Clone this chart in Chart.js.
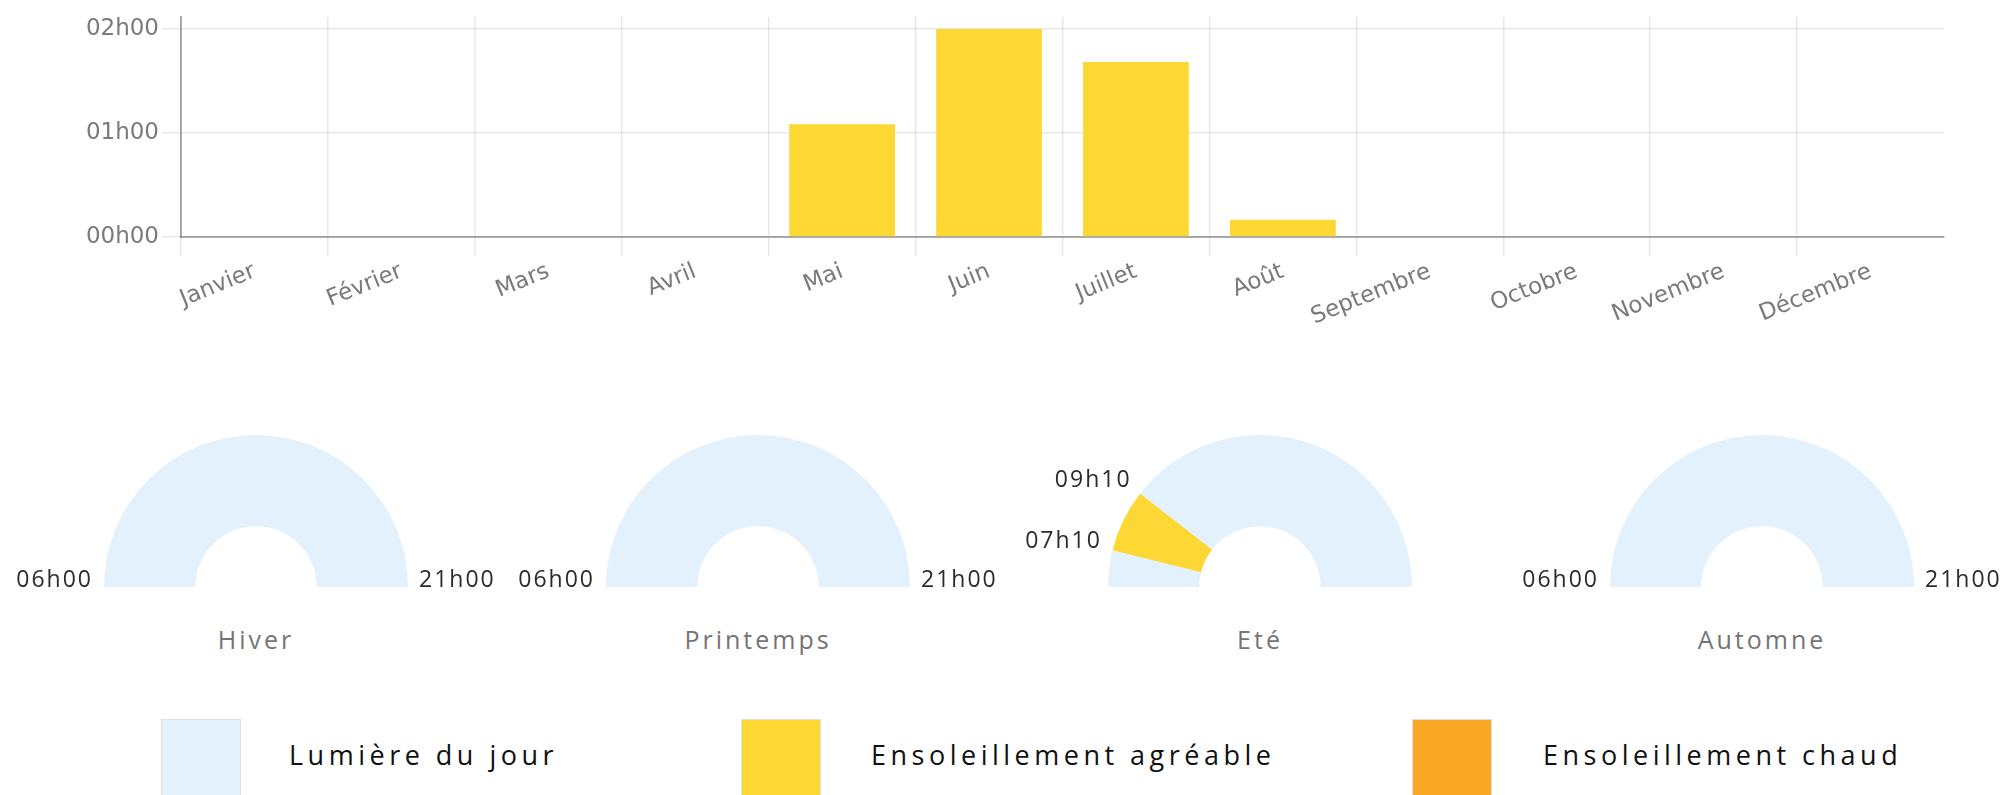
<!DOCTYPE html>
<html lang="fr">
<head>
<meta charset="utf-8">
<title>Ensoleillement</title>
<script src="https://cdn.jsdelivr.net/npm/chart.js@4.4.1/dist/chart.umd.min.js"></script>
<style>
  html, body { margin: 0; padding: 0; background: #fff; }
  #page { position: relative; width: 2000px; height: 795px; overflow: hidden; }
  canvas { position: absolute; }
  .season-title {
    position: absolute; width: 484px; text-align: center;
    font-family: "Open Sans"; font-size: 25px; line-height: 30px;
    letter-spacing: 3px; color: #747474;
  }
  .legend-box { position: absolute; top: 719px; width: 78px; height: 78px; border: 1px solid #e0e0e0; }
  .legend-text {
    position: absolute; top: 737px; white-space: nowrap;
    font-family: "Open Sans"; font-size: 27px; line-height: 36px;
    letter-spacing: 4.5px; color: #111;
  }
</style>
</head>
<body>
<div id="page">
  <canvas id="sunChart" width="2000" height="330" style="left:0;top:0"></canvas>
</div>
<script>
// monthly hours of pleasant sunshine, in minutes
const months = ["Janvier", "Février", "Mars", "Avril", "Mai", "Juin", "Juillet", "Août", "Septembre", "Octobre", "Novembre", "Décembre"];
const pleasantMinutes = [0, 0, 0, 0, 65, 120, 101, 10, 0, 0, 0, 0];
const yTicks = [0, 60, 120];
const yMax = 127;

// seasons: daylight window and pleasant sunshine window (minutes since midnight)
const seasons = ["Hiver", "Printemps", "Eté", "Automne"];
const dayStart = 360;
const dayEnd = 1260;
const pleasantFrom = [null, null, 430, null];
const pleasantTo = [null, null, 550, null];

const legendLabels = ["Lumière du jour", "Ensoleillement agréable", "Ensoleillement chaud"];

const DAYLIGHT = "#E3F1FC";
const PLEASANT = "#FDD835";
const HOT = "#F9A825";

function hhmm(minutes) {
    const h = Math.floor(minutes / 60);
    const m = minutes % 60;
    return String(h).padStart(2, "0") + "h" + String(m).padStart(2, "0");
}

const tickFont = { family: "'DejaVu Sans'", size: 23 };

new Chart(document.getElementById("sunChart"), {
    type: "bar",
    data: {
        labels: months,
        datasets: [
            {
                label: "Ensoleillement agréable",
                data: pleasantMinutes,
                backgroundColor: PLEASANT,
                borderWidth: 0
            }
        ]
    },
    options: {
        responsive: false,
        animation: false,
        layout: { padding: { top: 14, right: 56, left: 0, bottom: 0 } },
        plugins: {
            legend: { display: false },
            tooltip: { enabled: false }
        },
        scales: {
            x: {
                grid: {
                    color: (c) => c.type === "tick" ? "rgba(0,0,0,0.09)" : "transparent",
                    lineWidth: 1.5,
                    tickLength: 19
                },
                border: { color: "rgba(0,0,0,0.3)", width: 2 },
                ticks: {
                    font: tickFont,
                    color: "#7a7a7a",
                    minRotation: 22,
                    maxRotation: 22,
                    padding: 2
                },
                afterFit: (scale) => { scale.height = 93; }
            },
            y: {
                min: 0,
                max: yMax,
                grid: { color: "rgba(0,0,0,0.09)", lineWidth: 1.5, tickLength: 19 },
                border: { color: "rgba(0,0,0,0.3)", width: 2 },
                afterBuildTicks: (scale) => { scale.ticks = yTicks.map((v) => ({ value: v })); },
                ticks: {
                    font: tickFont,
                    color: "#7a7a7a",
                    padding: 3,
                    callback: (v) => hhmm(v)
                },
                afterFit: (scale) => { scale.width = 181; }
            }
        }
    }
});

function timeLabels(marks) {
    return {
        id: "timeLabels",
        afterDraw(chart) {
            const arcs = chart.getDatasetMeta(0).data;
            const ctx = chart.ctx;
            ctx.save();
            ctx.font = "500 23px 'Open Sans'";
            ctx.letterSpacing = "2px";
            ctx.fillStyle = "#2b2b2b";
            ctx.textBaseline = "alphabetic";
            marks.forEach((mark) => {
                const arc = arcs[mark.arc];
                const angle = mark.edge === "start" ? arc.startAngle : arc.endAngle;
                const r = arc.outerRadius + 11;
                const x = arc.x + Math.cos(angle) * r;
                const y = arc.y + Math.sin(angle) * r;
                ctx.textAlign = Math.cos(angle) < 0 ? "right" : "left";
                ctx.fillText(mark.text, x, y);
            });
            ctx.restore();
        }
    };
}

const page = document.getElementById("page");

seasons.forEach((season, i) => {
    const left = 14 + 502 * i;
    const canvas = document.createElement("canvas");
    canvas.width = 484;
    canvas.height = 222;
    canvas.style.left = left + "px";
    canvas.style.top = "400px";
    page.appendChild(canvas);

    let segments, colors, marks;
    if (pleasantFrom[i] === null) {
        segments = [dayEnd - dayStart];
        colors = [DAYLIGHT];
        marks = [
            { arc: 0, edge: "start", text: hhmm(dayStart) },
            { arc: 0, edge: "end", text: hhmm(dayEnd) }
        ];
    } else {
        segments = [pleasantFrom[i] - dayStart, pleasantTo[i] - pleasantFrom[i], dayEnd - pleasantTo[i]];
        colors = [DAYLIGHT, PLEASANT, DAYLIGHT];
        marks = [
            { arc: 1, edge: "start", text: hhmm(pleasantFrom[i]) },
            { arc: 1, edge: "end", text: hhmm(pleasantTo[i]) }
        ];
    }

    new Chart(canvas, {
        type: "doughnut",
        data: {
            labels: colors.map((c) => c === PLEASANT ? legendLabels[1] : legendLabels[0]),
            datasets: [
                {
                    data: segments,
                    backgroundColor: colors,
                    borderWidth: 0
                }
            ]
        },
        options: {
            responsive: false,
            animation: false,
            rotation: -90,
            circumference: 180,
            cutout: "40%",
            radius: 152,
            plugins: {
                legend: { display: false },
                tooltip: { enabled: false }
            }
        },
        plugins: [timeLabels(marks)]
    });

    const title = document.createElement("div");
    title.className = "season-title";
    title.style.left = left + "px";
    title.style.top = "624px";
    title.textContent = season;
    page.appendChild(title);
});

// legend below the gauges
const legendColors = [DAYLIGHT, PLEASANT, HOT];
const legendBoxLeft = [161, 741, 1412];
const legendTextLeft = [289, 871, 1543];

legendLabels.forEach((label, i) => {
    const box = document.createElement("div");
    box.className = "legend-box";
    box.style.left = legendBoxLeft[i] + "px";
    box.style.background = legendColors[i];
    page.appendChild(box);

    const text = document.createElement("div");
    text.className = "legend-text";
    text.style.left = legendTextLeft[i] + "px";
    text.textContent = label;
    page.appendChild(text);
});
</script>
</body>
</html>
